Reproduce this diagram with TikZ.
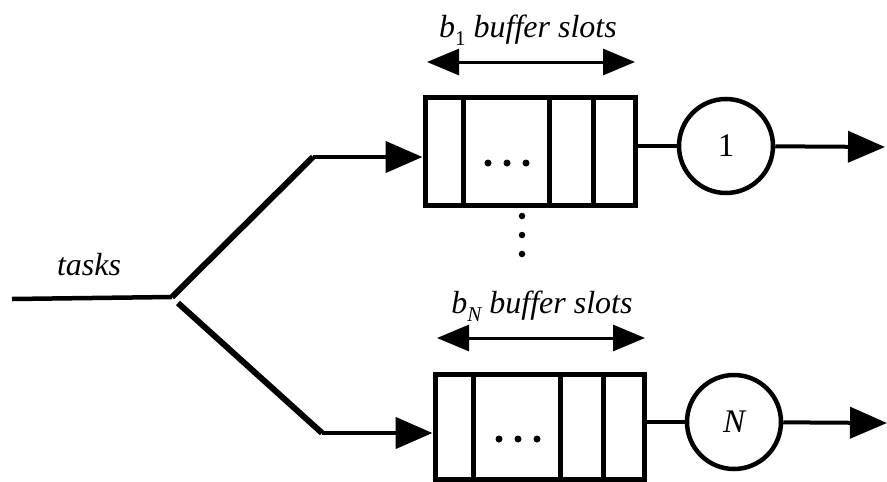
\documentclass[tikz,border=0pt]{standalone}
\usepackage{fontspec}
\setmainfont{Liberation Serif}
\usetikzlibrary{arrows.meta}
\tikzset{
  big/.style={-{Triangle[length=37pt,width=31pt]}},
  dbl/.style={{Triangle[length=32pt,width=26pt]}-{Triangle[length=32pt,width=26pt]}, line width=3pt},
  qbox/.style={draw, line width=5pt, rectangle, inner sep=0pt},
  server/.style={draw, circle, line width=4.5pt, minimum size=94pt, inner sep=0pt, font=\fontsize{33}{38}\selectfont},
  lbl/.style={font=\fontsize{32}{38}\selectfont\itshape, inner sep=0pt, anchor=base},
  dot/.style={fill, circle, inner sep=0pt, minimum size=7pt},
}
\newcommand{\subs}[1]{\raisebox{-0.28em}{\fontsize{21}{21}\selectfont #1}}
\begin{document}
\begin{tikzpicture}[x=1pt,y=-1pt]
\useasboundingbox (0,0) rectangle (887,482);
% queues
\node[qbox, minimum width=210pt, minimum height=108pt] (q1) at (530,151) {};
\node[qbox, minimum width=209pt, minimum height=105pt] (qN) at (539.5,426.5) {};
% dividers
\foreach \x in {463,549,593} \draw[line width=5pt] (\x,97) -- (\x,205);
\foreach \x in {473,560,603} \draw[line width=5pt] (\x,374) -- (\x,479);
% dots inside queues
\foreach \x [count=\i] in {488,507,526} \node[dot] (d1\i) at (\x,163) {};
\foreach \x [count=\i] in {499,518,537} \node[dot] (dN\i) at (\x,439) {};
% vertical dots
\foreach \y [count=\i] in {216,235,254} \node[dot, minimum size=6.5pt] (v\i) at (522,\y) {};
% servers
\node[server] (c1) at (726,146) {1};
\node[server] (cN) at (734,422) {\itshape N};
% labels
\node[lbl] (l1) at (528,37) {b\subs{\upshape 1} buffer slots};
\node[lbl] (lN) at (542,313) {b\subs{\itshape N} buffer slots};
\node[lbl] (tasks) at (89,275) {tasks};
% coordinates
\coordinate (in) at (12,299);
\coordinate (split) at (172,297);
\coordinate (splitb) at (178,303);
\coordinate (bend1) at (313,157);
\coordinate (bendN) at (322,433);
\coordinate (out1) at (885,147);
\coordinate (outN) at (887,423);
\coordinate (a1l) at (427,62);
\coordinate (a1r) at (635,62);
\coordinate (aNl) at (437,338);
\coordinate (aNr) at (645,338);
% branches
\draw[line width=4.5pt] (in) -- (split);
\draw[line width=6pt] (split) -- (bend1);
\draw[line width=6pt] (splitb) -- (bendN);
\draw[line width=4.5pt, big] (bend1) -- (q1.west |- bend1);
\draw[line width=4.5pt, big] (bendN) -- (qN.west |- bendN);
% queue to server
\draw[line width=4pt] (q1.east |- c1) -- (c1);
\draw[line width=4pt] (qN.east |- cN) -- (cN);
% outputs
\draw[line width=4pt, big] (c1) -- (out1);
\draw[line width=4pt, big] (cN) -- (outN);
% capacity arrows
\draw[dbl] (a1l) -- (a1r);
\draw[dbl] (aNl) -- (aNr);
\end{tikzpicture}
\end{document}
